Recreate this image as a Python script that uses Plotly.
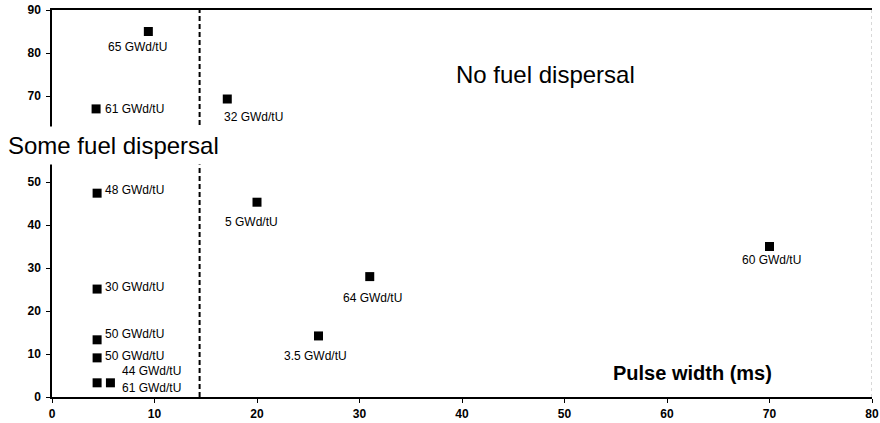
import plotly.graph_objects as go

# ---- data ----
pulse_width_ms = [9.4, 4.3, 17.1, 4.4, 20.0, 4.4, 4.4, 4.4, 4.4, 5.7, 26.0, 31.0, 70.0]
energy_cal_g = [85, 67, 69.3, 47.4, 45.3, 25.1, 13.3, 9.1, 3.3, 3.3, 14.2, 28, 35]
burnup_labels = ["65 GWd/tU", "61 GWd/tU", "32 GWd/tU", "48 GWd/tU", "5 GWd/tU",
                 "30 GWd/tU", "50 GWd/tU", "50 GWd/tU", "44 GWd/tU", "61 GWd/tU",
                 "3.5 GWd/tU", "64 GWd/tU", "60 GWd/tU"]
dispersal_threshold_ms = 14.4
x_ticks = [0, 10, 20, 30, 40, 50, 60, 70, 80]
y_ticks = [0, 10, 20, 30, 40, 50, 70, 80, 90]  # 60 is hidden behind the "Some fuel dispersal" text

# ---- label placement (pixel offsets: anchor, xshift, yshift) ----
label_style = [
    ("center", -11, -15),
    ("left", 7, 0),
    ("left", -5, -18),
    ("left", 6, 3),
    ("center", -6, -20),
    ("left", 6, 2),
    ("left", 6, 6),
    ("left", 6, 2),
    ("left", 23, 12),
    ("left", 10, -5),
    ("center", -3, -20),
    ("center", 3, -21),
    ("center", 2, -13),
]

FONT = "Arial, Liberation Sans, sans-serif"

fig = go.Figure()
fig.add_trace(go.Scatter(
    x=pulse_width_ms, y=energy_cal_g, mode="markers",
    marker=dict(symbol="square", size=9, color="black"),
    showlegend=False, hoverinfo="skip",
))

annotations = []
for xv, yv, txt, (anc, dx, dy) in zip(pulse_width_ms, energy_cal_g, burnup_labels, label_style):
    annotations.append(dict(
        x=xv, y=yv, xref="x", yref="y", text=txt, showarrow=False,
        xanchor=anc, yanchor="middle", xshift=dx, yshift=dy,
        font=dict(family=FONT, size=12, color="black"),
    ))

annotations += [
    dict(x=48.1, y=74.9, xref="x", yref="y", text="No fuel dispersal", showarrow=False,
         xanchor="center", yanchor="middle", font=dict(family=FONT, size=24, color="black")),
    dict(x=-0.061, y=58.6, xref="paper", yref="y", text="Some fuel dispersal", showarrow=False,
         xanchor="left", yanchor="middle", bgcolor="white", borderpad=5,
         font=dict(family=FONT, size=24, color="black")),
    dict(x=62.5, y=5.6, xref="x", yref="y", text="<b>Pulse width (ms)</b>", showarrow=False,
         xanchor="center", yanchor="middle", font=dict(family=FONT, size=20, color="black")),
]

shapes = [
    dict(type="line", xref="x", yref="y", x0=dispersal_threshold_ms, x1=dispersal_threshold_ms,
         y0=0, y1=90, line=dict(color="black", width=2, dash="5px,3px"), layer="above"),
    dict(type="line", xref="x", yref="y", x0=80, x1=80, y0=0, y1=90,
         line=dict(color="#b0b0b0", width=1, dash="dot")),
]

fig.update_layout(
    width=880, height=423,
    margin=dict(l=52, r=8, t=10, b=26, autoexpand=False),
    paper_bgcolor="white", plot_bgcolor="white",
    annotations=annotations, shapes=shapes,
    xaxis=dict(range=[0, 80], tickvals=x_ticks, ticks="outside", ticklen=4,
               tickcolor="black", showline=True, linecolor="black", linewidth=1.5,
               mirror=True, showgrid=False, zeroline=False, ticklabelstandoff=1,
               automargin=False,
               tickfont=dict(family=FONT, size=12, color="black", weight="bold")),
    yaxis=dict(range=[0, 90], tickvals=y_ticks, ticks="outside", ticklen=4,
               tickcolor="black", showline=True, linecolor="black", linewidth=1.5,
               showgrid=False, zeroline=False, ticklabelstandoff=3, automargin=False,
               tickfont=dict(family=FONT, size=12, color="black", weight="bold")),
)

fig.write_html("out.html")
